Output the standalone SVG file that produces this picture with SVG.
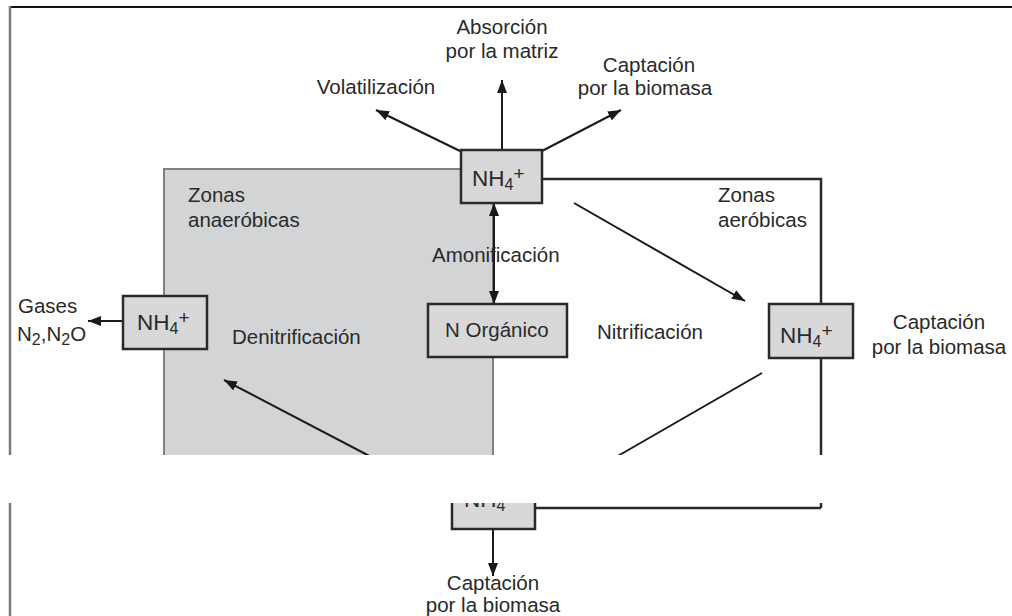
<svg xmlns="http://www.w3.org/2000/svg" width="1012" height="616" viewBox="0 0 1012 616">
<style>
text{font-family:"Liberation Sans",Arial,sans-serif;fill:#2a2a2a;font-size:20.5px}
.box{fill:#d8d8d8;stroke:#2a2a2a;stroke-width:2.5}
.nh{font-size:22.5px}
.sub{font-size:16px}
.sup{font-size:19px}
.ln{fill:none;stroke:#1a1a1a;stroke-width:2}
.fr{fill:none;stroke:#2a2a2a;stroke-width:2.5}
.c{text-anchor:middle}
</style>
<defs>
<marker id="ah" viewBox="0 0 13 10" refX="13" refY="5" markerWidth="13" markerHeight="10" orient="auto-start-reverse" markerUnits="userSpaceOnUse"><path d="M0,0 L13,5 L0,10 z" fill="#1a1a1a"/></marker>
</defs>
<rect width="1012" height="616" fill="#fff"/>
<g id="frame">
<line x1="10" y1="7" x2="1012" y2="7" stroke="#111" stroke-width="2"/>
</g>
<g id="zona-anaerobica">
<rect x="164" y="169" width="329" height="320" fill="#d3d4d6" stroke="#808080" stroke-width="2"/>
<text x="188" y="202">Zonas</text>
<text x="188" y="227">anaeróbicas</text>
<text x="232" y="344">Denitrificación</text>
</g>
<g id="zona-aerobica">
<text x="718" y="202">Zonas</text>
<text x="718" y="227">aeróbicas</text>
<text x="597" y="339">Nitrificación</text>
</g>
<g id="connectors">
<polyline class="fr" points="542,179 821,179 821,304"/>
<line class="fr" x1="821" y1="358" x2="821" y2="508"/>
<line class="fr" x1="821" y1="508" x2="535" y2="508"/>
<line class="ln" x1="460" y1="151" x2="376" y2="110" marker-end="url(#ah)"/>
<line class="ln" x1="502" y1="150" x2="502" y2="80" marker-end="url(#ah)"/>
<line class="ln" x1="542" y1="151" x2="621" y2="110" marker-end="url(#ah)"/>
<line class="ln" x1="494" y1="203" x2="494" y2="304" marker-start="url(#ah)" marker-end="url(#ah)"/>
<line class="ln" x1="574" y1="203" x2="745" y2="301" marker-end="url(#ah)"/>
<line class="ln" x1="762" y1="373" x2="590" y2="472"/>
<line class="ln" x1="400" y1="472" x2="224" y2="380" marker-end="url(#ah)"/>
<line class="ln" x1="123" y1="321" x2="88" y2="321" marker-end="url(#ah)"/>
<line class="ln" x1="493" y1="529" x2="493" y2="576" marker-end="url(#ah)"/>
</g>
<g id="amonificacion">
<text x="432" y="262">Amonificación</text>
</g>
<g id="nh4-top">
<rect class="box" x="461" y="150" width="81" height="53"/>
<text x="472" y="186"><tspan class="nh">NH</tspan><tspan class="sub" dy="4">4</tspan><tspan class="sup" dy="-10">+</tspan></text>
</g>
<g id="n-organico">
<rect class="box" x="428" y="304" width="139" height="53"/>
<text x="445" y="337">N Orgánico</text>
</g>
<g id="nh4-left">
<rect class="box" x="123" y="296" width="84" height="53"/>
<text x="137" y="330"><tspan class="nh">NH</tspan><tspan class="sub" dy="4">4</tspan><tspan class="sup" dy="-10">+</tspan></text>
</g>
<g id="nh4-right">
<rect class="box" x="769" y="304" width="84" height="54"/>
<text x="780" y="343"><tspan class="nh">NH</tspan><tspan class="sub" dy="4">4</tspan><tspan class="sup" dy="-10">+</tspan></text>
</g>
<g id="nh4-bottom">
<rect class="box" x="452" y="474" width="83" height="55"/>
<text x="464" y="507"><tspan class="nh">NH</tspan><tspan class="sub" dy="4">4</tspan><tspan class="sup" dy="-10">+</tspan></text>
</g>
<g id="labels">
<text class="c" x="502" y="34">Absorción</text>
<text class="c" x="502" y="58">por la matriz</text>
<text class="c" x="649" y="72">Captación</text>
<text class="c" x="645" y="95">por la biomasa</text>
<text class="c" x="376" y="94">Volatilización</text>
<text x="18" y="313">Gases</text>
<text x="17" y="341">N<tspan class="sub" dy="4">2</tspan><tspan dy="-4">,N</tspan><tspan class="sub" dy="4">2</tspan><tspan dy="-4">O</tspan></text>
<text class="c" x="939" y="329">Captación</text>
<text class="c" x="939" y="354">por la biomasa</text>
<text class="c" x="493" y="590">Captación</text>
<text class="c" x="493" y="612">por la biomasa</text>
</g>
<rect id="gap" x="0" y="455" width="1012" height="48" fill="#fff"/>
<g id="frame-left">
<line x1="10" y1="6" x2="10" y2="455" stroke="#7a7a7a" stroke-width="2.5"/>
<line x1="10" y1="503" x2="10" y2="616" stroke="#7a7a7a" stroke-width="2.5"/>
</g>
</svg>
